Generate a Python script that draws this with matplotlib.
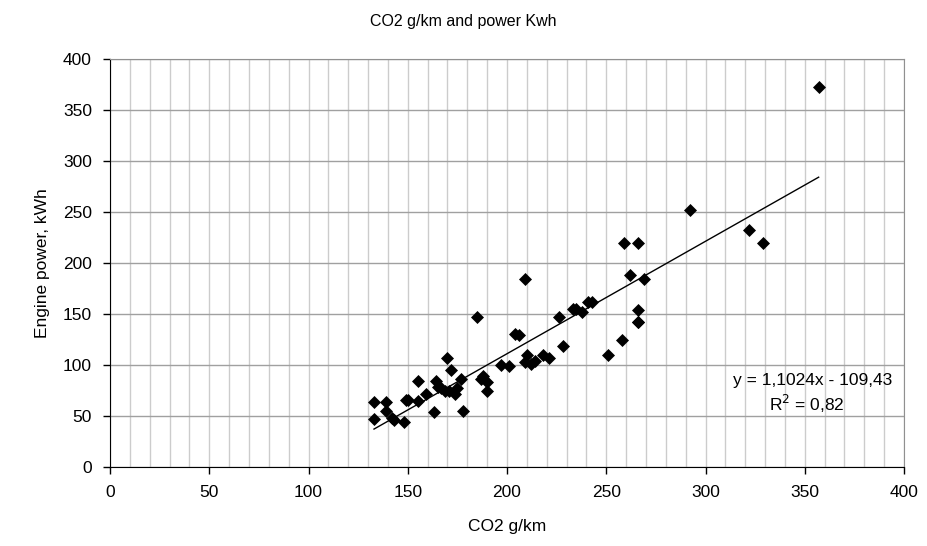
import matplotlib.pyplot as plt
from matplotlib.ticker import MultipleLocator
import numpy as np

plt.rcParams['font.family'] = ['Liberation Sans', 'DejaVu Sans']

# CO2 g/km vs engine power
co2 = [133, 133, 139, 139, 142, 143, 148, 149, 150, 155, 155, 159, 163, 164, 165,
       167, 170, 169, 172, 171, 174, 175, 177, 178, 185, 188, 187, 190, 190,
       197, 201, 204, 206, 209, 210, 209, 212, 214, 218, 221, 226, 228,
       233, 235, 238, 241, 243, 251, 258, 259, 262, 266, 266, 266, 266, 269,
       292, 322, 329, 357]
power = [64, 47, 64, 55, 48, 46, 44, 66, 66, 84, 65, 72, 54, 84, 78,
         77, 107, 75, 95, 75, 72, 77, 86, 55, 147, 89, 86, 83, 75,
         100, 99, 130, 129, 184, 110, 103, 101, 104, 110, 107, 147, 119,
         155, 155, 152, 162, 162, 110, 125, 220, 188, 220, 154, 142, 142, 184,
         252, 232, 220, 373]

slope = 1.1024
intercept = -109.43

fig = plt.figure(figsize=(9.27, 5.46), dpi=100)
ax = fig.add_axes([110 / 927, 79 / 546, 794 / 927, 408 / 546])

ax.set_xlim(0, 400)
ax.set_ylim(0, 400)
ax.xaxis.set_major_locator(MultipleLocator(50))
ax.xaxis.set_minor_locator(MultipleLocator(10))
ax.yaxis.set_major_locator(MultipleLocator(50))

ax.grid(axis='x', which='both', color='#cccccc', lw=1)
ax.grid(axis='y', which='major', color='#a0a0a0', lw=1)
ax.set_axisbelow(True)

for s in ['top', 'right']:
    ax.spines[s].set_color('#909090')
for s in ['left', 'bottom']:
    ax.spines[s].set_color('black')

ax.tick_params(which='major', direction='out', length=5, width=1, labelsize=12.5, pad=8)
ax.tick_params(which='minor', length=0)

xs = np.array([min(co2), max(co2)])
ax.plot(xs, slope * xs + intercept, color='black', lw=1, zorder=3)
ax.scatter(co2, power, marker='D', s=44, color='black', zorder=4, linewidths=0)

ax.text(394, 85, 'y = 1,1024x - 109,43', ha='right', va='center', fontsize=12.5)
ax.text(351, 62, 'R$^2$ = 0,82', ha='center', va='center', fontsize=12.5)

ax.set_xlabel('CO2 g/km', fontsize=12.5, labelpad=14)
ax.set_ylabel('Engine power, kWh', fontsize=12.5, labelpad=9)
fig.suptitle('CO2 g/km and power Kwh', y=0.975, fontsize=11.5)

fig.savefig('out.png', dpi=100)
